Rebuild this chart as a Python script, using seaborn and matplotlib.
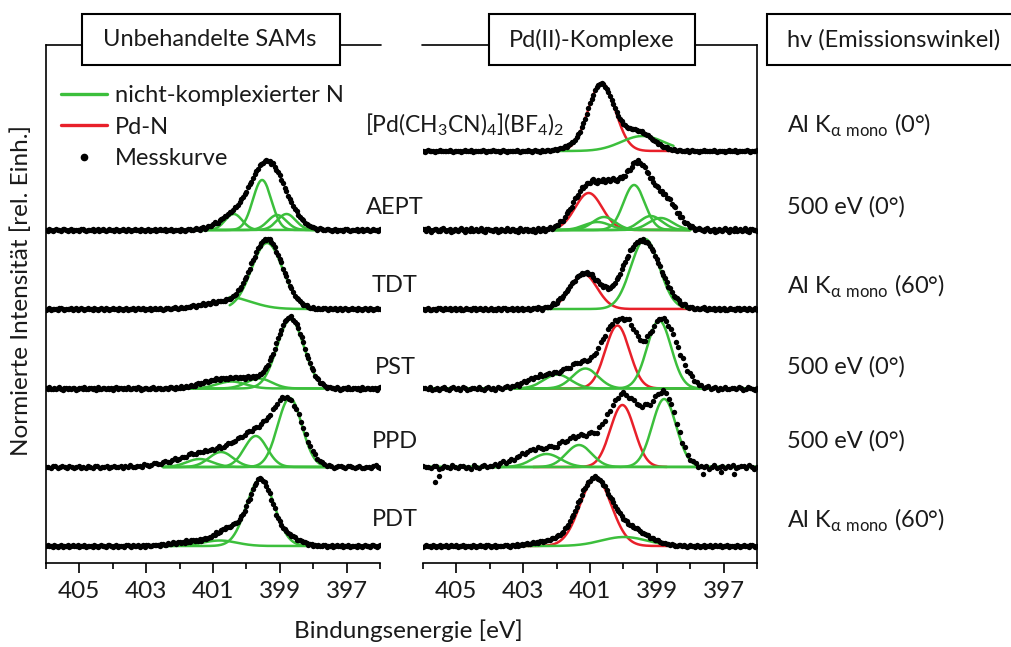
import numpy as np
import pandas as pd
import matplotlib
matplotlib.use("Agg")
import matplotlib.pyplot as plt
import seaborn as sns
from matplotlib.lines import Line2D
from matplotlib.patches import Rectangle
from matplotlib.ticker import FixedLocator

# ------------------------------------------------------------------ data
# Binding-energy axis (eV), tick labels
major_ticks = [405, 403, 401, 399, 397]
minor_ticks = [406, 404, 402, 400, 398, 396]

sample_names = ["[Pd(CH$_\\mathregular{3}$CN)$_\\mathregular{4}$](BF$_\\mathregular{4}$)$_\\mathregular{2}$",
                "AEPT", "TDT", "PST", "PPD", "PDT"]
photon_labels = ["Al K$_{\\mathregular{\\alpha\\ mono}}$ (0°)", "500 eV (0°)",
                 "Al K$_{\\mathregular{\\alpha\\ mono}}$ (60°)", "500 eV (0°)",
                 "500 eV (0°)", "Al K$_{\\mathregular{\\alpha\\ mono}}$ (60°)"]

L_AEPT_meas = [(399.37, 0.69, 1.25), (400.5, 0.10, 1.0)]
L_TDT_meas = [(399.38, 0.69, 1.1), (400.7, 0.07, 1.6)]
L_PST_meas = [(398.68, 0.70, 0.95), (400.0, 0.10, 1.6), (401.0, 0.05, 1.2)]
L_PPD_meas = [(398.72, 0.58, 1.0), (399.6, 0.30, 1.4), (401.0, 0.16, 2.2)]
L_PDT_meas = [(399.57, 0.66, 0.85), (400.5, 0.16, 0.9), (401.5, 0.05, 1.5), (398.7, 0.08, 0.8)]

R_PD_meas = [(400.68, 0.66, 0.9), (399.6, 0.20, 1.1), (401.6, 0.03, 0.8)]
R_AEPT_meas = [(401.1, 0.42, 1.0), (400.3, 0.38, 0.9), (399.55, 0.58, 0.8), (398.8, 0.32, 0.9)]
R_TDT_meas = [(401.15, 0.36, 1.1), (399.40, 0.68, 1.2), (399.95, 0.08, 0.6)]
R_PST_meas = [(400.3, 0.55, 0.8), (399.8, 0.38, 0.6), (398.85, 0.70, 1.1), (401.2, 0.25, 1.2), (402.4, 0.12, 1.2)]
R_PPD_meas = [(400.0, 0.72, 1.2), (398.75, 0.70, 0.85), (399.3, 0.12, 0.6), (401.3, 0.26, 1.1), (402.5, 0.18, 1.5)]
R_PDT_meas = [(400.88, 0.66, 1.15), (399.8, 0.16, 1.3), (402.2, 0.05, 1.2)]

# single stray points of the PPD (Pd) measurement (eV, intensity)
R_PPD_stray = [(405.64, -0.15), (405.52, -0.09), (397.63, -0.07), (397.08, -0.05), (396.7, -0.065)]

# scatter of the measured points around the curve (typical wiggle pattern, relative units)
wiggle = [0.3, -0.5, 0.8, 0.1, -0.9, -0.2, 0.6, 0.4, -0.3, -0.7, 0.5, 0.9, -0.1, -0.6, 0.2, 0.7,
          -0.8, -0.4, 0.3, 0.0, -0.5, 0.6, 1.0, -0.2, -0.9, 0.4, 0.1, -0.3, 0.8, -0.6, -0.1, 0.5,
          -0.7, 0.2, 0.9, -0.4, -0.8, 0.3, 0.6, -0.2, 0.0, -0.6, 0.7, 0.4, -0.9, -0.3, 0.5, 0.1,
          -0.5, 0.8, -0.1, -0.7, 0.3, 0.6, -0.4, 0.2, -0.8, 0.9, -0.2, -0.5, 0.4, 0.7, -0.6, 0.1,
          -0.3, 0.5, -0.9, 0.2, 0.8, -0.4, 0.0, 0.6, -0.7, 0.3, -0.1, 0.9, -0.5, -0.2, 0.4]

# fitted components: (centre eV, height, FWHM eV, species)  g = nicht-komplexierter N, r = Pd-N
L_AEPT_fit = [(399.53, 0.50, 0.65, "g"), (400.38, 0.16, 0.6, "g"), (399.08, 0.15, 0.65, "g"), (398.80, 0.16, 0.65, "g")]
L_TDT_fit = [(399.38, 0.66, 1.1, "g"), (400.55, 0.12, 1.6, "g")]
L_PST_fit = [(398.68, 0.69, 0.95, "g"), (399.62, 0.10, 0.9, "g"), (400.45, 0.07, 1.0, "g")]
L_PPD_fit = [(398.70, 0.69, 0.85, "g"), (399.72, 0.31, 0.8, "g"), (400.76, 0.15, 0.85, "g"), (401.4, 0.08, 0.9, "g")]
L_PDT_fit = [(399.58, 0.67, 0.98, "g"), (400.8, 0.055, 1.2, "g")]

R_PD_fit = [(400.65, 0.68, 0.95, "r"), (399.43, 0.15, 1.5, "g")]
R_AEPT_fit = [(401.04, 0.37, 0.95, "r"), (399.68, 0.45, 0.75, "g"), (400.58, 0.13, 0.8, "g"),
              (400.78, 0.08, 0.9, "g"), (399.18, 0.14, 0.8, "g"), (398.88, 0.12, 0.85, "g")]
R_TDT_fit = [(401.19, 0.35, 0.95, "r"), (399.35, 0.70, 1.0, "g")]
R_PST_fit = [(400.18, 0.63, 0.85, "r"), (398.93, 0.68, 0.85, "g"), (401.14, 0.20, 0.9, "g"), (401.98, 0.14, 0.95, "g")]
R_PPD_fit = [(400.03, 0.62, 0.85, "r"), (398.78, 0.68, 0.85, "g"), (401.33, 0.22, 0.9, "g"), (402.3, 0.13, 1.0, "g")]
R_PDT_fit = [(400.83, 0.68, 1.1, "r"), (399.98, 0.09, 1.6, "g")]

# energy window of each fit (from, to) per species
L_AEPT_win = {"g": (401.6, 397.95)}
L_TDT_win = {"g": (400.5, 398.1)}
L_PST_win = {"g": (402.7, 397.5)}
L_PPD_win = {"g": (402.5, 397.5)}
L_PDT_win = {"g": (402.6, 398.2)}
R_PD_win = {"g": (402.1, 398.5), "r": (402.1, 398.4)}
R_AEPT_win = {"g": (402.1, 398.0), "r": (402.1, 398.0)}
R_TDT_win = {"g": (402.3, 398.1), "r": (406.0, 396.0)}
R_PST_win = {"g": (406.0, 396.0), "r": (403.2, 397.9)}
R_PPD_win = {"g": (406.0, 396.0), "r": (402.7, 398.7)}
R_PDT_win = {"g": (403.2, 398.7), "r": (403.2, 398.7)}

# ------------------------------------------------------------------ layout / style
W, H = 1011, 647
GREEN = "#3cbf3c"
RED = "#e8202a"
row_offset = [4.12, 3.33, 2.54, 1.745, 0.96, 0.17]
label_y_px = [125, 207, 286, 367, 441, 520]

# (panel, row, meas, fit, window, point step, wiggle amplitude, stray points)
spectra = [
    ("L", 1, L_AEPT_meas, L_AEPT_fit, L_AEPT_win, 0.05, 0.012, []),
    ("L", 2, L_TDT_meas, L_TDT_fit, L_TDT_win, 0.05, 0.012, []),
    ("L", 3, L_PST_meas, L_PST_fit, L_PST_win, 0.05, 0.013, []),
    ("L", 4, L_PPD_meas, L_PPD_fit, L_PPD_win, 0.07, 0.015, []),
    ("L", 5, L_PDT_meas, L_PDT_fit, L_PDT_win, 0.05, 0.012, []),
    ("R", 0, R_PD_meas, R_PD_fit, R_PD_win, 0.05, 0.008, []),
    ("R", 1, R_AEPT_meas, R_AEPT_fit, R_AEPT_win, 0.05, 0.02, []),
    ("R", 2, R_TDT_meas, R_TDT_fit, R_TDT_win, 0.05, 0.014, []),
    ("R", 3, R_PST_meas, R_PST_fit, R_PST_win, 0.07, 0.017, []),
    ("R", 4, R_PPD_meas, R_PPD_fit, R_PPD_win, 0.08, 0.02, R_PPD_stray),
    ("R", 5, R_PDT_meas, R_PDT_fit, R_PDT_win, 0.05, 0.012, []),
]

sns.set_theme(style="white")
plt.rcParams["font.family"] = ["Lato", "DejaVu Sans"]
plt.rcParams["mathtext.fontset"] = "custom"
plt.rcParams["mathtext.rm"] = "Lato"
plt.rcParams["text.color"] = "#1a1a1a"

FS = 17

fig = plt.figure(figsize=(W / 100, H / 100), dpi=100)
fig.patch.set_facecolor("white")


def fx(x):
    return x / W


def fy(y):
    return 1 - y / H


axL = fig.add_axes([fx(46), fy(563), fx(380) - fx(46), fy(45) - fy(563)])
axR = fig.add_axes([fx(423), fy(563), fx(757) - fx(423), fy(45) - fy(563)])
axes = {"L": axL, "R": axR}


def peak(x, c, h, w):
    return h * np.exp(-4 * np.log(2) * ((x - c) / w) ** 2)


for k, (panel, row, meas, fit, win, step, amp, stray) in enumerate(spectra):
    ax = axes[panel]
    off = row_offset[row]
    # fitted components
    for (c, h, w, kind) in fit:
        hi, lo = win[kind]
        xr = np.linspace(hi, lo, 400)
        yr = peak(xr, c, h, w) + off
        sns.lineplot(x=xr, y=yr, ax=ax, color=GREEN if kind == "g" else RED,
                     linewidth=1.8, zorder=2, estimator=None)
    # measured points
    xm = np.arange(406.0, 395.97, -step)
    ym = np.zeros_like(xm)
    for (c, h, w) in meas:
        ym += peak(xm, c, h, w)
    n = len(wiggle)
    ym += amp * np.array([wiggle[(i + 13 * k) % n] for i in range(len(xm))])
    if stray:
        xm = np.concatenate([xm, [p[0] for p in stray]])
        ym = np.concatenate([ym, [p[1] for p in stray]])
    df = pd.DataFrame({"E": xm, "I": ym + off})
    sns.scatterplot(data=df, x="E", y="I", ax=ax, s=15, color="black",
                    linewidth=0, zorder=3)

for name, ax in axes.items():
    ax.set_xlim(406, 396)
    ax.set_ylim(0, 5.18)
    ax.set_yticks([])
    ax.set_xlabel("")
    ax.set_ylabel("")
    ax.xaxis.set_major_locator(FixedLocator(major_ticks))
    ax.xaxis.set_minor_locator(FixedLocator(minor_ticks))
    ax.set_xticklabels([str(t) for t in major_ticks])
    ax.tick_params(axis="x", which="major", direction="out", length=7, width=1.2,
                   color="black", labelsize=17.5, pad=6, labelcolor="#1a1a1a", bottom=True)
    ax.tick_params(axis="x", which="minor", direction="out", length=4, width=1.2,
                   color="black", bottom=True)
    ax.set_facecolor("none")
    for s in ["top", "left", "right", "bottom"]:
        ax.spines[s].set_visible(False)
    ax.spines["bottom"].set_visible(True)
    ax.spines["bottom"].set_color("black")
    ax.spines["bottom"].set_linewidth(1.2)

axL.spines["left"].set_visible(True)
axL.spines["left"].set_color("black")
axL.spines["left"].set_linewidth(1.2)
axR.spines["right"].set_visible(True)
axR.spines["right"].set_color("black")
axR.spines["right"].set_linewidth(1.2)


# header boxes and top lines
def hline(x0, x1, y):
    fig.add_artist(Line2D([fx(x0), fx(x1)], [fy(y), fy(y)], color="black", lw=1.2))


def box(x0, x1, y0, y1):
    fig.add_artist(Rectangle((fx(x0), fy(y1)), fx(x1) - fx(x0), fy(y0) - fy(y1),
                             facecolor="white", edgecolor="black", lw=1.5, zorder=5))


hline(46, 82, 45)
hline(340, 381, 45)
box(82, 340, 14, 65)
fig.text(fx(210), fy(40), "Unbehandelte SAMs", ha="center", va="center", fontsize=FS, zorder=6)

hline(422, 489, 45)
hline(695, 757, 45)
box(489, 695, 14, 65)
fig.text(fx(592), fy(40), "Pd(II)-Komplexe", ha="center", va="center", fontsize=FS, zorder=6)

box(767, 1030, 14, 65)
fig.text(fx(787), fy(40), "hv (Emissionswinkel)", ha="left", va="center", fontsize=FS, zorder=6)

# sample names and excitation
fig.text(fx(365), fy(label_y_px[0]), sample_names[0], ha="left", va="center", fontsize=16.5)
for i in range(1, 6):
    fig.text(fx(395), fy(label_y_px[i]), sample_names[i], ha="center", va="center", fontsize=FS)
for i in range(6):
    fig.text(fx(787), fy(label_y_px[i]), photon_labels[i], ha="left", va="center", fontsize=FS)

# axis titles
fig.text(fx(21), fy(291), "Normierte Intensität [rel. Einh.]", rotation=90,
         ha="center", va="center", fontsize=17.5)
fig.text(fx(408), fy(631), "Bindungsenergie [eV]", ha="center", va="center", fontsize=17.5)

# legend
handles = [Line2D([], [], color=GREEN, lw=2.4),
           Line2D([], [], color=RED, lw=2.4),
           Line2D([], [], color="black", marker="o", markersize=4.5, lw=0)]
leg = axL.legend(handles, ["nicht-komplexierter N", "Pd-N", "Messkurve"],
                 loc="upper left", bbox_to_anchor=(fx(61), fy(85)),
                 bbox_transform=fig.transFigure, frameon=False, fontsize=FS,
                 handlelength=1.95, handletextpad=0.35, labelspacing=0.45,
                 borderpad=0, borderaxespad=0)

fig.savefig("out.png", dpi=100)
